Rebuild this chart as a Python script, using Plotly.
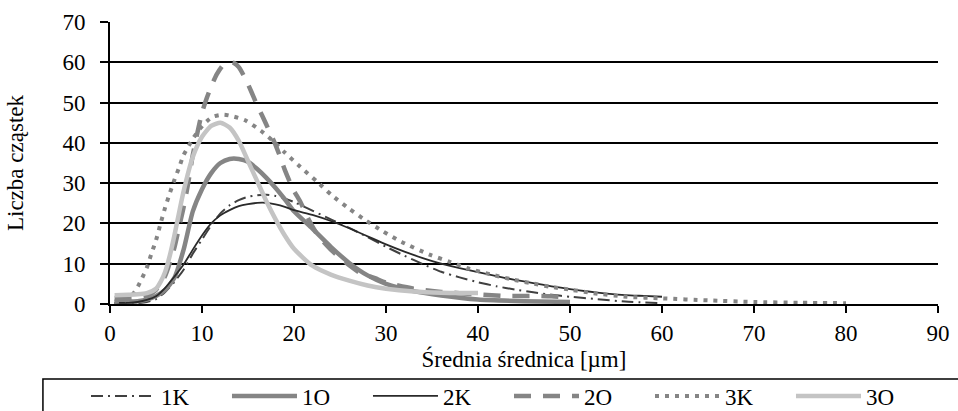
import plotly.graph_objects as go

# ---- data ----
x_1K = [0.5, 3, 4, 5, 6, 7, 8, 9, 10, 11, 12, 13, 14, 15, 16, 17, 18, 19, 20, 22, 24, 26, 28, 30, 32, 34, 36, 38, 40, 42, 44, 46, 48, 50, 53, 56, 60]
y_1K = [0.1, 0.2, 0.5, 1.2, 3.0, 5.5, 8.5, 12.5, 16.0, 19.5, 22.5, 24.5, 25.8, 26.6, 27.0, 27.1, 26.8, 26.2, 25.3, 23.2, 21.0, 18.9, 16.6, 14.2, 12.0, 9.9, 8.0, 6.6, 5.4, 4.4, 3.6, 2.9, 2.3, 1.8, 1.2, 0.6, 0.2]

x_1O = [0.5, 2, 3, 4, 5, 6, 7, 8, 9, 10, 11, 12, 13, 14, 15, 16, 17, 18, 19, 20, 22, 24, 26, 28, 30, 33, 36, 40, 45, 50]
y_1O = [0.6, 0.6, 0.7, 1.1, 2.0, 3.5, 6.5, 13.5, 23.0, 28.5, 32.5, 35.0, 36.0, 36.0, 35.3, 33.5, 31.3, 28.8, 26.0, 23.0, 18.7, 14.2, 10.2, 7.1, 5.0, 3.2, 2.1, 1.1, 0.7, 0.5]

x_2K = [0.5, 2, 3, 4, 5, 6, 7, 8, 9, 10, 11, 12, 13, 14, 15, 16, 17, 18, 19, 20, 22, 24, 26, 28, 30, 32, 34, 36, 38, 40, 42, 44, 46, 48, 50, 52, 54, 56, 58, 60]
y_2K = [0.3, 0.3, 0.5, 1.0, 1.9, 4.0, 6.8, 9.8, 13.5, 17.0, 20.0, 22.0, 23.3, 24.3, 24.8, 25.1, 25.1, 24.7, 24.1, 23.3, 22.1, 20.6, 18.8, 16.8, 14.8, 13.0, 11.4, 10.0, 8.9, 7.9, 6.9, 6.0, 5.2, 4.4, 3.7, 3.1, 2.6, 2.2, 2.0, 1.8]

x_2O = [0.5, 2, 3, 4, 5, 6, 7, 7.5, 8, 8.5, 9, 9.5, 10, 10.5, 11, 11.6, 12.3, 13, 13.5, 14, 14.7, 15.4, 16, 16.6, 17.3, 17.9, 18.5, 19, 19.9, 20.7, 21.7, 22.6, 24, 26, 27.2, 28.8, 30, 33, 36, 40, 43, 46, 48, 50]
y_2O = [1.5, 1.5, 1.6, 2.0, 3.5, 7.0, 14.0, 19.0, 24.0, 30.0, 37.0, 42.5, 47.5, 51.0, 54.0, 57.0, 59.3, 60.0, 59.8, 58.8, 56.0, 52.5, 49.3, 46.5, 43.0, 40.0, 36.5, 33.3, 28.5, 25.3, 20.5, 17.0, 13.5, 9.6, 7.7, 6.4, 5.3, 3.8, 3.0, 2.4, 2.0, 2.0, 1.9, 1.6]

x_3K = [0.5, 1.5, 2, 2.5, 3, 3.5, 4, 4.5, 5, 5.5, 6, 6.5, 7, 7.5, 8, 8.5, 9, 9.7, 10.5, 11.2, 12.4, 13.5, 14.7, 16.4, 17.7, 19, 20.7, 22.5, 24.1, 25.9, 27.7, 29.7, 31.7, 34.8, 37, 39.1, 41.3, 43.5, 45.7, 47.8, 50.2, 52.5, 56.2, 60, 65, 70, 75, 80]
y_3K = [0.5, 0.8, 1.3, 2.5, 4.2, 6.5, 9.0, 12.5, 15.8, 20.0, 24.0, 27.5, 30.8, 33.8, 37.0, 39.0, 41.0, 43.3, 45.3, 46.5, 47.0, 46.5, 45.6, 43.0, 40.5, 37.6, 34.0, 30.4, 27.0, 23.8, 20.9, 18.0, 15.4, 12.2, 10.4, 8.7, 7.4, 6.2, 5.2, 4.3, 3.5, 2.7, 1.8, 1.4, 0.9, 0.5, 0.3, 0.2]

x_3O = [0.5, 2, 3, 4, 5, 5.5, 6, 6.5, 7, 8, 9, 10, 11, 12, 13, 14, 15, 16, 17, 18, 19, 20, 22, 24, 26, 28, 30, 33, 36, 40]
y_3O = [2.2, 2.3, 2.4, 2.7, 3.8, 5.5, 8.0, 12.0, 17.0, 28.0, 36.5, 41.5, 44.2, 45.0, 43.8, 40.5, 35.5, 30.5, 25.5, 21.0, 17.0, 13.7, 9.5, 7.3, 5.8, 4.6, 3.8, 3.1, 2.8, 2.7]

FONT = "Liberation Serif, Times New Roman, serif"

series = [
    ("1K", x_1K, y_1K, dict(color="#404040", width=2, dash="12px,5px,2px,5px")),
    ("1O", x_1O, y_1O, dict(color="#858585", width=4.5)),
    ("2K", x_2K, y_2K, dict(color="#2a2a2a", width=1.8)),
    ("2O", x_2O, y_2O, dict(color="#858585", width=4.5, dash="17px,12px")),
    ("3K", x_3K, y_3K, dict(color="#858585", width=4, dash="4px,6px")),
    ("3O", x_3O, y_3O, dict(color="#c4c4c4", width=4.5)),
]

fig = go.Figure()
for name, xs, ys, line in series:
    fig.add_trace(go.Scatter(x=xs, y=ys, mode="lines", name=name,
                             line=dict(shape="spline", smoothing=0.6, **line)))

fig.update_layout(
    width=958, height=411,
    margin=dict(l=110, r=20, t=22, b=107, autoexpand=False),
    paper_bgcolor="white", plot_bgcolor="white",
    font=dict(family=FONT, size=23, color="black"),
    showlegend=True,
    legend=dict(orientation="h", x=-0.029, xanchor="left", y=-0.25, yanchor="top",
                entrywidth=61, entrywidthmode="pixels", itemwidth=65,
                font=dict(family=FONT, size=23, color="black"),
                bgcolor="rgba(0,0,0,0)", borderwidth=0),
    shapes=[dict(type="rect", xref="paper", yref="paper",
                 x0=-0.081, x1=1.2, y0=-0.6, y1=-0.266,
                 line=dict(color="black", width=1.5), fillcolor="rgba(0,0,0,0)")],
)

fig.update_xaxes(range=[0, 90], tickvals=[0, 10, 20, 30, 40, 50, 60, 70, 80, 90],
                 showgrid=False, zeroline=False, showline=True, linecolor="black", linewidth=2,
                 ticks="outside", ticklen=7, tickwidth=2, tickcolor="black",
                 tickfont=dict(family=FONT, size=23),
                 title=dict(text="Średnia średnica [µm]", standoff=0,
                            font=dict(family=FONT, size=23)))
fig.update_yaxes(range=[0, 70], tickvals=[0, 10, 20, 30, 40, 50, 60, 70],
                 showgrid=True, gridcolor="black", gridwidth=2,
                 zeroline=False, showline=True, linecolor="black", linewidth=2,
                 ticks="outside", ticklen=8, tickwidth=2, tickcolor="black",
                 ticklabelstandoff=10,
                 tickfont=dict(family=FONT, size=23),
                 title=dict(text="Liczba cząstek", standoff=32,
                            font=dict(family=FONT, size=23)))

fig.write_html("out.html",
               config={"displayModeBar": False},
               post_script="document.body.style.margin='0px';"
                           "document.body.style.padding='0px';"
                           "document.body.style.overflow='hidden';")
